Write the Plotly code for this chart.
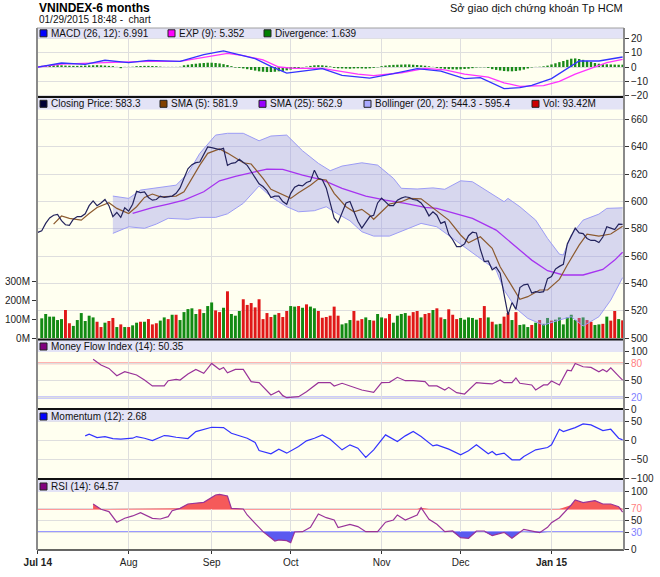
import plotly.graph_objects as go
import pandas as pd

# ---------------- data ----------------
holidays = ["2014-09-01", "2014-09-02", "2015-01-01", "2015-01-02"]
dates = [d.strftime("%Y-%m-%d") for d in pd.bdate_range("2014-07-01", "2015-01-29")
         if d.strftime("%Y-%m-%d") not in holidays]

month_labels = ["<b>Jul 14</b>", "Aug", "Sep", "Oct", "Nov", "Dec", "<b>Jan 15</b>"]

close = [577.4, 578.6, 584, 588, 590, 590.5, 586, 583, 582.5, 587,
         589, 589, 591, 597, 600.5, 597, 599, 601.5, 597, 589,
         592, 588.4, 595.5, 593, 598, 607.5, 606.5, 607, 603, 601,
         601.5, 604, 603, 603.5, 604, 606, 610, 617, 624, 627,
         628.5, 629, 635, 640, 639.5, 638.5, 638, 639, 626.5, 628,
         628.5, 631, 628.5, 626.5, 622, 617, 613, 611, 608, 603,
         604, 604, 600, 598, 606, 610.5, 612, 611.5, 614, 615,
         623, 617, 616, 610, 599, 588, 584.5, 592, 599, 600,
         592, 585.5, 580.5, 585, 589, 590, 599, 602.5, 600, 597,
         597, 601, 602.5, 603.5, 603, 601.5, 601, 599, 595, 589.5,
         592.5, 590, 584, 585.3, 576, 572, 567, 567, 569, 575,
         577.5, 577, 565, 556, 556.5, 550, 552, 547.5, 532, 517,
         526, 521, 537, 539, 539.5, 533, 534, 533.5, 534, 543.5,
         545, 550.5, 552.5, 554, 569, 574.5, 580.5, 577, 576.5, 573,
         571.5, 571.5, 570, 574, 581.5, 580.5, 579.5, 583.5, 583.3]

# volume (millions) from 2nd trading day on
volume = [104, 127, 113, 113, 95, 100, 148, 78, 64, 95, 132, 90, 118, 109, 86, 58, 81, 90, 106, 58,
          72, 58, 58, 67, 81, 86, 86, 100, 72, 78, 92, 109, 100, 123, 123, 95, 137, 153, 157, 127,
          152, 132, 169, 188, 146, 137, 160, 247, 127,
          118, 143, 205, 175, 185, 162, 205, 100, 132, 111, 123, 132, 111, 143, 169, 166, 169, 160,
          178, 166, 157, 143, 107, 111, 118, 166, 118, 72, 78, 95, 143, 92, 100, 109, 95, 92, 127,
          109, 104, 127, 81, 118, 127, 132, 118, 137, 143, 109,
          127, 132, 148, 157, 109, 100, 152, 123, 100, 106, 97, 109, 106, 97, 106, 169, 109, 86, 72,
          75, 113, 132, 95, 137, 69, 72, 58, 69, 81, 95, 75, 106, 92, 97, 109, 72, 109, 123, 95, 106,
          109, 95, 86, 69, 72, 75, 113, 92, 143, 100, 93.42]
volume_dir = ("GGGGGGRRGGGGGGRRGRRGRGRGGRGRRRGGRGRGGGGGRGGGRRGRG"
              "GGRRRRRRRRGRRRGGRGRGGRRRRRRGGGRRRGGRGGRRGGGGRRRG"
              "RRGRRGRRRGGGGGRRGRGGRRGRGGGRGRGGRGGGGGGRGRRGGRGRRGR")

sma5_idx = [4, 6, 8, 11, 13, 15, 18, 20, 23, 25, 27, 29, 31, 35, 37, 39, 41, 43, 46, 48, 52, 54, 57,
            59, 62, 64, 66, 69, 71, 73, 75, 78, 80, 82, 84, 85, 87, 89, 92, 94, 97, 100, 104, 107,
            109, 112, 115, 117, 120, 122, 124, 127, 129, 132, 134, 137, 139, 142, 145, 147, 148]
sma5_val = [583.5, 589.4, 587.7, 586.4, 591.3, 595.7, 599.1, 595, 591.3, 596.2, 603, 605.5, 603.5,
            604, 607.2, 617, 626.7, 635.3, 638.5, 635.5, 628.4, 627.5, 617, 609, 604.8, 602.3,
            606.5, 612, 616.5, 615.8, 606, 596.2, 592.5, 594.3, 590, 587, 592.5, 598.2, 599.9,
            602.3, 602, 595.5, 586.4, 575.5, 569.8, 574.2, 565.7, 552.2, 537.6, 528.4, 530.3,
            535.2, 535.2, 543, 553.5, 568.1, 576.2, 574.7, 576.2, 579.6, 581.9]

sma25_idx = [24, 29, 33, 37, 42, 46, 50, 53, 58, 62, 67, 72, 77, 83, 88, 93, 98, 101, 105, 110, 116,
             121, 125, 129, 133, 138, 143, 146, 148]
sma25_val = [591.3, 595.5, 598.2, 601, 607.2, 615.2, 618.5, 620.6, 623.8, 623.6, 619.4, 615.8, 609.7,
             604, 601, 598.7, 595.7, 595, 591.8, 587.7, 579.1, 566.9, 557.1, 549.3, 546.2, 546.2,
             550.3, 557.1, 562.9]

boll_up_idx = [19, 23, 26, 31, 35, 38, 41, 45, 48, 52, 56, 59, 63, 67, 71, 74, 77, 82, 86, 90, 92, 96,
               100, 103, 107, 110, 114, 118, 119, 122, 126, 129, 132, 133, 135, 138, 142, 144, 148]
boll_up_val = [604, 602.3, 608.4, 610.4, 612, 620.6, 635.3, 648.7, 650, 650, 644.5, 648, 648.7, 637.2,
               628, 622.6, 626, 628.4, 626.7, 617, 609.7, 609.2, 610, 609, 615.2, 614.5, 607.2,
               599.9, 602.3, 596.2, 586.4, 573, 561.5, 560.8, 575.5, 586.4, 590.8, 595, 595.4]
boll_lo_idx = [19, 23, 27, 30, 33, 38, 41, 45, 48, 52, 56, 59, 63, 66, 70, 73, 76, 79, 82, 85, 89, 93,
               97, 101, 105, 109, 112, 116, 118, 121, 124, 127, 128, 132, 135, 138, 142, 145, 148]
boll_lo_val = [576.7, 581.5, 580.4, 583.5, 587.7, 587, 588.4, 588.4, 591, 598.7, 611.4, 603.5, 596.2,
               592.5, 593.3, 596.2, 590.8, 585.9, 577.9, 574.7, 574.7, 579.6, 584, 581.5, 573, 564.5,
               558.4, 549.8, 535.2, 521.8, 514.4, 511, 509.5, 513.2, 515.6, 508.8, 515.6, 527.8, 544.3]

macd_idx = [0, 6, 12, 17, 23, 28, 36, 42, 47, 50, 55, 59, 63, 67, 72, 77, 84, 90, 96, 102, 108, 112,
            118, 122, 125, 130, 134, 137, 142, 148]
macd_val = [0, 2.8, 1.9, 4.7, 3, 4.7, 4, 8.6, 11.2, 9.4, 5.9, 0.5, -4.2, -2.8, -1.1, -5.8, -7.7, -4.6,
            -1.1, -2.8, -8.1, -7.4, -15.1, -14.4, -12.8, -8.1, -1.1, 4.2, 4.2, 6.991]
exp_idx = [0, 6, 17, 28, 36, 44, 48, 52, 57, 61, 65, 72, 76, 81, 85, 92, 98, 103, 108, 114, 118, 122,
           128, 132, 136, 141, 144, 148]
exp_val = [0, 2, 3, 4, 4, 8, 9.5, 8, 5, 0, -1, -1, -3, -5, -6, -4, -1, -2, -5, -7, -11, -13.5, -13,
           -10, -5, 0, 3, 5.352]
divergence = [0,
              0.8, 1.0, 1.2, 1.3, 1.3, 1.2, 1.0, 0.9, 0.8, 0.8, 0.9, 1.0, 1.1, 1.2, 1.3, 1.2, 1.0, 0.8, 0.6,
              0.1, -0.8, 0.1, 0.1, 0.2, 0.6,
              0.7, 0.8, 0.8, 0.7, 0.6, 0.3,
              0.1, 0.1, 0.1, 0.1, 0.2, 1.2,
              1.6, 2.0, 2.3, 2.6, 2.8, 3.0, 3.0, 2.8, 2.5, 2.0, 1.4, 0.6,
              -0.4, -0.6,
              -1.0, -1.5, -2.0, -2.5, -3.0, -3.3, -3.5, -3.5, -3.3, -3.0, -2.7, -2.3, -1.8, -1.3, -0.8,
              -0.2, 0.3, 0.8,
              1.2, 1.3, 1.2, 0.9, 0.4,
              -0.6, -0.9, -1.0, -1.1, -1.2, -1.0, -0.9, -1.0, -1.1, -0.9, -0.6, -0.2,
              0.6, 1.0, 1.3, 1.5, 1.6, 1.7, 1.8, 1.8, 1.6, 1.4, 1.2, 0.9, 0.5, 0.1,
              -0.6, -1.0, -1.3, -1.5, -1.6, -1.7, -1.6, -1.4, -1.2, -0.8, -0.3,
              -0.2, -0.2, -0.6,
              -1.5, -2.0, -2.4, -2.8, -3.0, -3.0, -2.8, -2.4, -1.8, -1.0,
              -0.3, 0.1, 0.2, 0.5,
              1.0, 1.8, 2.6, 3.4, 4.2, 5.0, 5.8, 6.0, 5.6, 5.0, 4.3, 3.5, 2.8,
              2.3, 2.0, 1.9, 1.8, 1.7, 1.6, 1.639]

mfi_idx = [14, 16, 18, 20, 22, 25, 27, 29, 32, 33, 35, 36, 38, 40, 42, 44, 46, 47, 48, 50, 52, 54, 56,
           59, 61, 62, 63, 65, 66, 68, 71, 74, 75, 77, 79, 82, 85, 87, 89, 91, 93, 95, 98, 99, 101,
           103, 104, 106, 108, 111, 113, 115, 117, 118, 120, 121, 122, 125, 126, 128, 129, 130, 132,
           134, 135, 136, 138, 140, 142, 143, 144, 145, 147, 148]
mfi_val = [86.7, 76.8, 70.9, 58, 65.1, 59.3, 50.6, 40.2, 40.2, 49.4, 51.8, 50.6, 61, 69.1, 62.2, 79.6,
           69.1, 72.6, 63.3, 69.1, 69.1, 47.7, 46, 24.4, 31.4, 23.3, 19.8, 21.5, 21.5, 30.2, 46, 46,
           40.2, 44.9, 40.2, 33.2, 29.1, 46, 46.6, 55.3, 49.4, 49.4, 47.7, 40.2, 40.2, 33.2, 37.8,
           28.5, 26.2, 46, 44.9, 43.7, 50.6, 46, 46, 54.3, 44.9, 42, 33.2, 42, 42, 48.8, 42, 67.9,
           66.8, 79.6, 73.8, 72.6, 65.1, 69.1, 65.1, 72, 57.4, 50.35]

mom_idx = [12, 13, 15, 17, 19, 21, 24, 25, 27, 29, 32, 33, 35, 38, 40, 44, 47, 49, 53, 55, 56, 59, 61,
           63, 66, 68, 70, 72, 74, 77, 79, 81, 83, 85, 88, 91, 93, 95, 97, 100, 101, 104, 107, 109,
           111, 114, 115, 116, 118, 120, 122, 123, 126, 129, 130, 132, 133, 136, 138, 140, 143, 145,
           147, 148]
mom_val = [13.2, 17.5, 8.8, 11.4, 6.1, 4.4, 7, 11.4, 7, 0.9, 14, 13.2, 9.6, 6.1, 24.6, 36, 35.1, 20.2,
           7, -4.4, -25.4, -34.2, -21.9, -32.5, -14.9, 0, 7, 15.8, 4.4, -23.7, -10.5, -19.3, -43.9,
           -23.7, 15.8, -1.8, 13.2, 24.6, 11.4, -13.2, -10.5, -21.9, -36.8, -26.3, -10.5, -34.2,
           -28.1, -36.8, -32.5, -50, -50, -41.2, -23.7, -17.5, -10.5, 30.7, 24.6, 35.1, 44.7, 42.1,
           27.2, 30.7, 7, 2.68]

rsi_idx = [14, 16, 18, 20, 22, 24, 26, 29, 31, 33, 34, 36, 38, 40, 42, 45, 46, 48, 49, 52, 53, 55, 57,
           60, 61, 63, 64, 65, 67, 69, 71, 73, 75, 76, 79, 81, 83, 86, 88, 90, 91, 93, 96, 97, 99,
           101, 103, 105, 107, 109, 111, 113, 115, 118, 120, 122, 123, 127, 129, 130, 132, 135, 136,
           138, 141, 143, 145, 147, 148]
rsi_val = [78.6, 69.4, 65.4, 47, 53.8, 57.9, 63.6, 53.8, 52.6, 56.7, 67.1, 71.1, 78.6, 79.8, 81.5, 94.2,
           95.4, 92.5, 71.1, 70, 59.6, 45.1, 30.6, 14.4, 16.2, 15, 11.6, 30.1, 30.6, 38.2, 61.3, 54.9,
           50.9, 37.6, 43.4, 39.4, 30.6, 30.6, 47, 50.9, 59.6, 50.9, 59.6, 72.3, 52, 43.4, 30.6, 31.8,
           20.2, 19.1, 31.8, 31.8, 23.7, 29.5, 19.1, 29.5, 34.7, 28.9, 38.2, 46.3, 54.9, 76.9, 85.6,
           81, 84.5, 78.6, 78.6, 74, 64.57]

# ---------------- geometry helpers (pixels -> paper) ----------------
L, R, T, B = 37, 624, 28, 550
W, H = R - L, B - T


def xp(px):
    return (px - L) / W


def yp(py):
    return (B - py) / H


def pick(idx):
    return [dates[i] for i in idx]


month_ticks = []
for d in dates:
    if not month_ticks or d[:7] != month_ticks[-1][:7]:
        month_ticks.append(d)

fig = go.Figure()

# MACD panel
fig.add_trace(go.Bar(x=dates, y=divergence, marker_color="#1a8a1a", marker_line_width=0,
                     width=0.6, xaxis="x", yaxis="y"))
fig.add_trace(go.Scatter(x=pick(exp_idx), y=exp_val, mode="lines",
                         line=dict(color="#ff33ff", width=1.3), xaxis="x", yaxis="y"))
fig.add_trace(go.Scatter(x=pick(macd_idx), y=macd_val, mode="lines",
                         line=dict(color="#3333ff", width=1.3), xaxis="x", yaxis="y"))

# Volume (base) + price (overlay)
vol_colors = ["#128a12" if c == "G" else "#e01818" for c in volume_dir]
fig.add_trace(go.Bar(x=dates[1:], y=volume, marker_color=vol_colors, marker_line_width=0,
                     width=0.75, xaxis="x2", yaxis="y2"))
fig.add_trace(go.Scatter(x=pick(boll_up_idx), y=boll_up_val, mode="lines",
                         line=dict(color="#9c9cf5", width=1), xaxis="x2", yaxis="y3"))
fig.add_trace(go.Scatter(x=pick(boll_lo_idx), y=boll_lo_val, mode="lines", fill="tonexty",
                         fillcolor="rgba(150,150,235,0.38)",
                         line=dict(color="#9c9cf5", width=1), xaxis="x2", yaxis="y3"))
fig.add_trace(go.Scatter(x=pick(sma25_idx), y=sma25_val, mode="lines",
                         line=dict(color="#a633f0", width=1.3), xaxis="x2", yaxis="y3"))
fig.add_trace(go.Scatter(x=pick(sma5_idx), y=sma5_val, mode="lines",
                         line=dict(color="#8c5a2e", width=1.2), xaxis="x2", yaxis="y3"))
fig.add_trace(go.Scatter(x=dates, y=close, mode="lines",
                         line=dict(color="#23235c", width=1.2), xaxis="x2", yaxis="y3"))

# MFI
fig.add_trace(go.Scatter(x=pick(mfi_idx), y=mfi_val, mode="lines",
                         line=dict(color="#993399", width=1.2), xaxis="x3", yaxis="y4"))
# Momentum
fig.add_trace(go.Scatter(x=pick(mom_idx), y=mom_val, mode="lines",
                         line=dict(color="#3333ff", width=1.2), xaxis="x4", yaxis="y5"))
# RSI with over-bought / over-sold fills
rsi_x = pick(rsi_idx)
fig.add_trace(go.Scatter(x=rsi_x, y=[70] * len(rsi_x), mode="lines", line=dict(width=0),
                         xaxis="x5", yaxis="y6"))
fig.add_trace(go.Scatter(x=rsi_x, y=[max(v, 70) for v in rsi_val], mode="lines", line=dict(width=0),
                         fill="tonexty", fillcolor="#f55a5a", xaxis="x5", yaxis="y6"))
fig.add_trace(go.Scatter(x=rsi_x, y=[30] * len(rsi_x), mode="lines", line=dict(width=0),
                         xaxis="x5", yaxis="y6"))
fig.add_trace(go.Scatter(x=rsi_x, y=[min(v, 30) for v in rsi_val], mode="lines", line=dict(width=0),
                         fill="tonexty", fillcolor="#5a5af0", xaxis="x5", yaxis="y6"))
fig.add_trace(go.Scatter(x=rsi_x, y=rsi_val, mode="lines",
                         line=dict(color="#993399", width=1.2), xaxis="x5", yaxis="y6"))

GRID = "#dedede"
FONT = "Liberation Sans, Arial, sans-serif"

xbase = dict(type="category", categoryorder="array", categoryarray=dates, range=[-0.2, 148.35],
             tickvals=month_ticks, ticktext=month_labels, showgrid=True, gridcolor=GRID,
             gridwidth=1, zeroline=False, showline=False, fixedrange=True, automargin=False)

ybase = dict(side="right", showgrid=True, gridcolor=GRID, zeroline=False, ticks="outside",
             ticklen=4, tickcolor="#333", tickfont=dict(size=10, color="#222", family=FONT),
             showline=False, fixedrange=True, automargin=False)

layout = dict(
    width=660, height=577, margin=dict(l=L, r=660 - R, t=T, b=577 - B, autoexpand=False),
    paper_bgcolor="white", plot_bgcolor="#fffff0", showlegend=False, barmode="overlay",
    font=dict(family=FONT, size=10, color="#222"),
    xaxis=dict(xbase, anchor="y", showticklabels=False),
    xaxis2=dict(xbase, anchor="y2", showticklabels=False),
    xaxis3=dict(xbase, anchor="y4", showticklabels=False),
    xaxis4=dict(xbase, anchor="y5", showticklabels=False),
    xaxis5=dict(xbase, anchor="y6", showticklabels=True, ticks="outside", ticklen=3,
                tickcolor="#333", tickfont=dict(size=10, color="#222", family=FONT)),
    yaxis=dict(ybase, anchor="x", domain=[yp(97), yp(28)], range=[-20.9, 27.2],
               tickvals=[-20, -10, 0, 10, 20]),
    yaxis2=dict(ybase, anchor="x2", side="left", domain=[yp(339), yp(97)], range=[-5.3, 1275],
                showgrid=False, tickvals=[0, 100, 200, 300], ticktext=["0M", "100M", "200M", "300M"]),
    yaxis3=dict(ybase, anchor="x2", overlaying="y2", range=[499.3, 676.6],
                tickvals=[500, 520, 540, 560, 580, 600, 620, 640, 660]),
    yaxis4=dict(ybase, anchor="x3", domain=[yp(409), yp(339)], range=[0, 122.2],
                tickvals=[0, 20, 50, 80, 100],
                ticktext=["0", "<span style='color:#7f7fff'>20</span>", "50",
                          "<span style='color:#ff7f7f'>80</span>", "100"]),
    yaxis5=dict(ybase, anchor="x4", domain=[yp(479), yp(409)], range=[-100.8, 84.2],
                tickvals=[-100, -50, 0, 50]),
    yaxis6=dict(ybase, anchor="x5", domain=[yp(550), yp(479)], range=[-1.2, 122],
                tickvals=[0, 30, 50, 70, 100],
                ticktext=["0", "<span style='color:#7f7fff'>30</span>", "50",
                          "<span style='color:#ff7f7f'>70</span>", "100"]),
)
fig.update_layout(**layout)

shapes = []
# over-bought / over-sold reference lines
for yref, lvl, col in [("y4", 80, "#ff9a9a"), ("y4", 20, "#9a9aff"),
                       ("y6", 70, "#ff9a9a"), ("y6", 30, "#9a9aff")]:
    xr = "x3 domain" if yref == "y4" else "x5 domain"
    shapes.append(dict(type="line", xref=xr, yref=yref, x0=0, x1=1, y0=lvl, y1=lvl,
                       line=dict(color=col, width=2), layer="below"))

# legend bands
for top, bot in [(28, 38.3), (97.5, 109.5), (340, 352), (410, 421.5), (480, 492)]:
    shapes.append(dict(type="rect", xref="paper", yref="paper", x0=0, x1=1, y0=yp(bot), y1=yp(top),
                       fillcolor="#e3e3f6", line=dict(width=0), layer="above"))

# panel separators and frame
for py, col, w in [(28, "#a0a0a0", 1), (97, "#111", 2), (339.5, "#111", 2), (409, "#111", 2),
                   (479, "#111", 2), (550, "#333", 1.5)]:
    shapes.append(dict(type="line", xref="paper", yref="paper", x0=0, x1=1, y0=yp(py), y1=yp(py),
                       line=dict(color=col, width=w), layer="above"))
for px in (L, R):
    shapes.append(dict(type="line", xref="paper", yref="paper", x0=xp(px), x1=xp(px), y0=0, y1=1,
                       line=dict(color="#8a8a8a", width=2), layer="above"))

annotations = [
    dict(text="<b>VNINDEX-6 months</b>", x=xp(37), y=yp(7.5), xanchor="left", yanchor="middle",
         font=dict(size=12, color="#000", family=FONT)),
    dict(text="01/29/2015 18:48 -  chart", x=xp(37), y=yp(19.5), xanchor="left", yanchor="middle",
         font=dict(size=10, color="#111", family=FONT)),
    dict(text="Sở giao dịch chứng khoán Tp HCM", x=xp(625), y=yp(8), xanchor="right",
         yanchor="middle", font=dict(size=11, color="#111", family=FONT)),
]

legend_rows = [
    (33.3, [(40, "#0000ff", "MACD (26, 12): 6.991"), (168, "#ff00ff", "EXP (9): 5.352"),
            (264, "#008000", "Divergence: 1.639")]),
    (103.8, [(40, "#000033", "Closing Price: 583.3"), (160, "#804000", "SMA (5): 581.9"),
             (259, "#9900ff", "SMA (25): 562.9"), (364, "#aaaaff", "Bollinger (20, 2): 544.3 - 595.4"),
             (532, "#cc0000", "Vol: 93.42M")]),
    (346.5, [(40, "#800080", "Money Flow Index (14): 50.35")]),
    (416.5, [(40, "#0000ff", "Momentum (12): 2.68")]),
    (486.5, [(40, "#800080", "RSI (14): 64.57")]),
]
for yc, items in legend_rows:
    for px, col, txt in items:
        shapes.append(dict(type="rect", xref="paper", yref="paper", x0=xp(px), x1=xp(px + 7),
                           y0=yp(yc + 3.5), y1=yp(yc - 3.5), fillcolor=col,
                           line=dict(color="#222", width=1), layer="above"))
        annotations.append(dict(text=txt, x=xp(px + 9), y=yp(yc), xanchor="left", yanchor="middle",
                                font=dict(size=10, color="#111", family=FONT)))

for a in annotations:
    a.update(xref="paper", yref="paper", showarrow=False)

fig.update_layout(shapes=shapes, annotations=annotations)
fig.write_html("out.html", config={"displayModeBar": False, "staticPlot": True},
               post_script="document.body.style.margin='0';"
                           "document.body.style.overflow='hidden';")
